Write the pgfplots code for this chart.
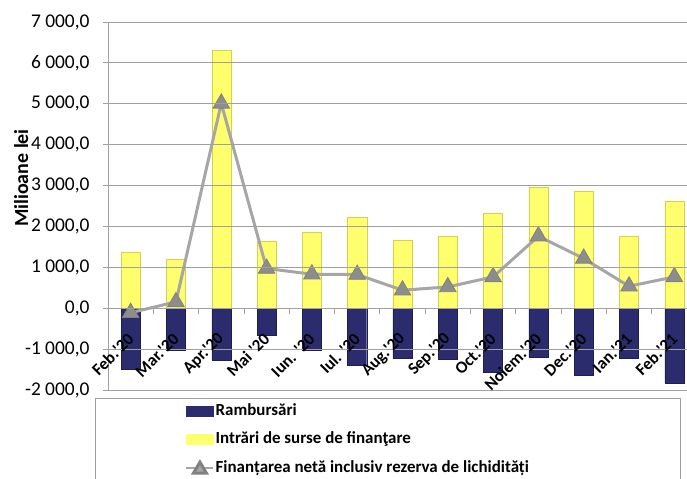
\documentclass[border=0pt]{standalone}
\usepackage{pgfplots}
\pgfplotsset{compat=1.18}
\usepackage{fontspec}
\setmainfont{Carlito}
\newcommand{\q}{\textquotesingle}
\definecolor{navy}{RGB}{43,44,110}
\definecolor{navyd}{RGB}{30,30,80}
\definecolor{ylw}{RGB}{255,255,110}
\definecolor{ylwe}{RGB}{210,210,80}
\definecolor{grl}{RGB}{166,166,166}
\definecolor{gridc}{RGB}{160,160,160}
\pgfplotstableread{
x R Y L
0 -1500 1378 -110
1 -1028 1190 155
2 -1273 6314 5010
3 -661 1648 971
4 -1028 1868 832
5 -1395 2220 824
6 -1232 1664 440
7 -1256 1770 521
8 -1558 2317 766
9 -1207 2953 1762
10 -1640 2871 1216
11 -1232 1770 538
12 -1827 2619 766
}\datatable
\begin{document}
\begin{tikzpicture}[x=1bp,y=1bp]
\begin{axis}[
  at={(108bp,89bp)}, anchor=south west,
  scale only axis, width=579bp, height=368bp,
  xmin=-0.5, xmax=12.28, ymin=-2000, ymax=7000,
  set layers=axis on top,
  axis x line*=middle, axis y line*=left,
  axis line style={gridc, line width=0.8bp},
  clip=false,
  xtick={0,...,12},
  xticklabels={Feb.\q20,Mar.\q20,Apr.\q20,Mai \q20,Iun. \q20,Iul. \q20,Aug.\q20,Sep.\q20,Oct.\q20,Noiem.\q20,Dec.\q20,Ian.\q21,Feb.\q21},
  minor xtick={0.5,1.5,...,11.5},
  major x tick style={draw=none},
  minor x tick style={gridc, line width=0.8bp},
  minor tick length=6bp,
  tick align=outside,
  ytick={-2000,-1000,...,7000},
  major tick length=5bp,
  y tick style={gridc, line width=0.8bp},
  ymajorgrids, grid style={gridc, line width=0.8bp},
  yticklabel style={font=\fontsize{19.5}{19.5}\selectfont, xshift=-10bp},
  /pgf/number format/assume math mode=true,
  /pgf/number format/.cd, fixed, fixed zerofill, precision=1, use comma, 1000 sep={\hspace{0.22em}},
  /pgfplots/.cd,
  scaled y ticks=false,
  xticklabel style={font=\bfseries\fontsize{17}{17}\selectfont, xshift=0bp, yshift=-23bp, rotate=45, anchor=east, inner sep=0pt},
  ylabel={Milioane lei},
  ylabel style={font=\bfseries\fontsize{20}{20}\selectfont, at={(axis description cs:-0.150,0.576)}, anchor=center, rotate=0},
  legend style={at={(axis description cs:0.133,-0.0326)}, anchor=north west, draw=none, fill=none,
    inner sep=0pt, row sep=10.5bp, nodes={inner sep=1bp, text height=12bp, text depth=4bp},
    font=\bfseries\fontsize{17}{17}\selectfont},
  legend cell align=left,
]
\addplot[ybar, bar width=0.42, bar shift=0pt, draw=navyd, fill=navy,
  legend image code/.code={\fill[navy] (0bp,-5bp) rectangle (27bp,5bp);}]
  table[x=x, y=R] {\datatable};
\addlegendentry{Rambursări}
\addplot[ybar, bar width=0.42, bar shift=0pt, draw=ylwe, fill=ylw,
  legend image code/.code={\fill[ylw] (0bp,-5bp) rectangle (27bp,5bp);}]
  table[x=x, y=Y] {\datatable};
\addlegendentry{Intrări de surse de finanţare}
\addplot[grl, line width=3bp, mark=triangle*, mark size=9.5bp,
  mark options={fill=grl!85!black, draw=gray, line width=0.8bp},
  legend image code/.code={\draw[grl, line width=2.5bp] (0bp,0bp) -- (27bp,0bp);
    \path[fill=grl, draw=gray] (13.5bp,6bp) -- (7bp,-5bp) -- (20bp,-5bp) -- cycle;}]
  table[x=x, y=L] {\datatable};
\addlegendentry{Finanțarea netă inclusiv rezerva de lichidități}
\end{axis}
\draw[gridc, line width=0.8bp] (95,81) rectangle (680,-20);
\pgfresetboundingbox
\path[use as bounding box] (0,0) rectangle (687,479);
\end{tikzpicture}
\end{document}
